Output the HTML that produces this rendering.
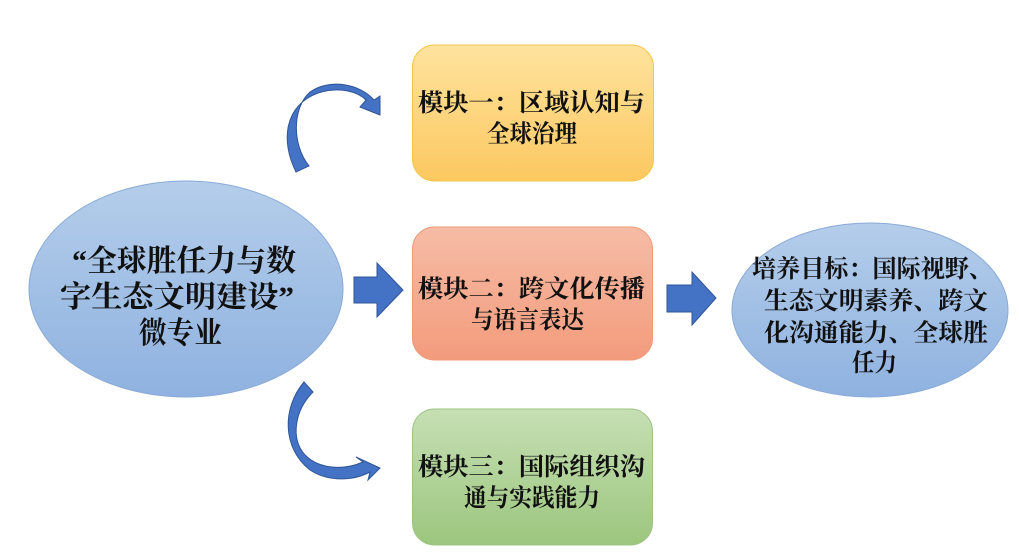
<!DOCTYPE html>
<html><head><meta charset="utf-8"><style>
html,body{margin:0;padding:0;background:#fff;}
svg{display:block;}
text{font-family:"Liberation Serif","Noto Serif CJK SC","Noto Sans CJK SC",serif;font-weight:bold;fill:#111;}
</style></head><body>
<svg width="1019" height="559" viewBox="0 0 1019 559" xmlns="http://www.w3.org/2000/svg">
<defs>
<linearGradient id="gy" x1="0" y1="0" x2="0" y2="1"><stop offset="0" stop-color="#fee39e"/><stop offset="1" stop-color="#fcc860"/></linearGradient>
<linearGradient id="go" x1="0" y1="0" x2="0" y2="1"><stop offset="0" stop-color="#f6bca6"/><stop offset="1" stop-color="#f39b7c"/></linearGradient>
<linearGradient id="gg" x1="0" y1="0" x2="0" y2="1"><stop offset="0" stop-color="#c6dfb4"/><stop offset="1" stop-color="#9cc67e"/></linearGradient>
<linearGradient id="gb" x1="0" y1="0" x2="0" y2="1"><stop offset="0" stop-color="#b4cdea"/><stop offset="1" stop-color="#8fb2e0"/></linearGradient>
</defs>
<rect x="412.5" y="45" width="241" height="136" rx="22" fill="url(#gy)" stroke="#f5c54a" stroke-width="1"/>
<rect x="412.5" y="227" width="240" height="133" rx="22" fill="url(#go)" stroke="#ee9a74" stroke-width="1"/>
<rect x="412.5" y="409" width="240" height="136" rx="22" fill="url(#gg)" stroke="#9ec484" stroke-width="1"/>
<ellipse cx="186" cy="289" rx="157" ry="108" fill="url(#gb)" stroke="#8aaad8" stroke-width="1"/>
<ellipse cx="870" cy="310" rx="138" ry="87" fill="url(#gb)" stroke="#8aaad8" stroke-width="1"/>
<polygon points="354,277 377,277 377,263 403,290 377,317 377,303 354,303" fill="#4472c4" stroke="#2f5597" stroke-width="1"/>
<polygon points="667,285 692,285 692,272 716,298 692,325 692,312 667,312" fill="#4472c4" stroke="#2f5597" stroke-width="1"/>
<path d="M296,172 C280,140 285,105 318,93 C340,86 358,92 366,100 L360,107 L380,115 L380,96 L374,100 C360,84 330,78 310,92 C292,108 292,145 309,166 Z" fill="#4472c4" stroke="#2f5597" stroke-width="1"/>
<path d="M304,382 C282,408 282,448 310,470 C330,483 355,480 370,472 L368,480 L380,468 L356,457 L363,462 C345,470 320,470 305,455 C290,438 295,410 313,392 Z" fill="#4472c4" stroke="#2f5597" stroke-width="1"/>
<g font-size="24.5">
<text x="418" y="111" textLength="227" lengthAdjust="spacingAndGlyphs">模块一：区域认知与</text>
<text x="487" y="142" textLength="90" lengthAdjust="spacingAndGlyphs">全球治理</text>
<text x="418" y="297" textLength="227" lengthAdjust="spacingAndGlyphs">模块二：跨文化传播</text>
<text x="471" y="328" textLength="113" lengthAdjust="spacingAndGlyphs">与语言表达</text>
<text x="418" y="475" textLength="227" lengthAdjust="spacingAndGlyphs">模块三：国际组织沟</text>
<text x="464" y="506" textLength="136" lengthAdjust="spacingAndGlyphs">通与实践能力</text>
<text x="752" y="277" textLength="241" lengthAdjust="spacingAndGlyphs">培养目标：国际视野、</text>
<text x="764" y="309" textLength="224" lengthAdjust="spacingAndGlyphs">生态文明素养、跨文</text>
<text x="764" y="341" textLength="224" lengthAdjust="spacingAndGlyphs">化沟通能力、全球胜</text>
<text x="852" y="371" textLength="45" lengthAdjust="spacingAndGlyphs">任力</text>
</g>
<g font-size="30">
<text x="72" y="271" textLength="224" lengthAdjust="spacingAndGlyphs">“全球胜任力与数</text>
<text x="60" y="307" textLength="234" lengthAdjust="spacingAndGlyphs">字生态文明建设”</text>
<text x="139" y="343" textLength="83" lengthAdjust="spacingAndGlyphs">微专业</text>
</g>
</svg>
</body></html>
